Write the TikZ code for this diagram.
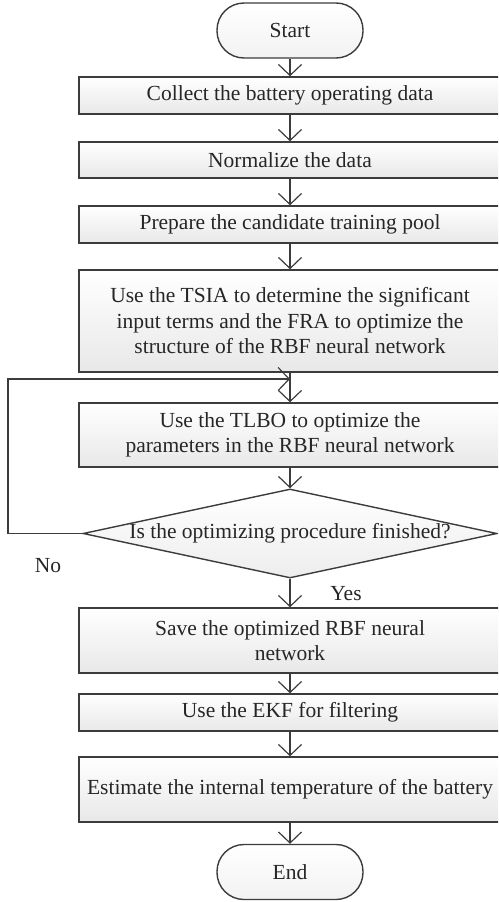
\documentclass[tikz,border=0pt]{standalone}
\usepackage{fontspec}
\setmainfont{Liberation Serif}
\usetikzlibrary{arrows.meta,shapes.geometric}
\definecolor{edge}{HTML}{3C3C3C}
\definecolor{ink}{HTML}{262626}
\begin{document}
\begin{tikzpicture}[x=1pt,y=-1pt,
  font=\fontsize{21.5}{25.5}\selectfont, text=ink,
  proc/.style={draw=edge, line width=1.4pt, top color=white, bottom color=black!9,
    minimum width=422pt, inner sep=0pt, align=center},
  term/.style={draw=edge, line width=1.4pt, top color=white, bottom color=black!5,
    rounded corners=27pt, minimum width=146pt, minimum height=55pt, inner sep=0pt},
  decide/.style={diamond, draw=edge, line width=1.4pt, top color=white, bottom color=black!7,
    minimum width=414pt, minimum height=89pt, inner sep=0pt},
  flow/.style={draw=edge, line width=1.2pt, -{Straight Barb[length=11pt,width=23pt,line width=1.2pt]}},
  tag/.style={inner sep=0pt}
]
\useasboundingbox (0,0) rectangle (498,902);
\clip (0,0) rectangle (498,902);

% terminals and process steps
\node[term] (start) at (290,30.5) {Start};
\node[proc, minimum height=37pt] (b1) at (290,95.5) {Collect the battery operating data};
\node[proc, minimum height=36pt] (b2) at (290,160) {Normalize the data};
\node[proc, minimum height=37pt] (b3) at (290,224.5) {Prepare the candidate training pool};
\node[proc, minimum height=102pt] (b4) at (290,321)
  {Use the TSIA to determine the significant\\input terms and the FRA to optimize the\\structure of the RBF neural network};
\node[proc, minimum height=64pt] (b5) at (290,435)
  {Use the TLBO to optimize the\\parameters in the RBF neural network};
\node[decide] (dec) at (290,533.5) {};
\node[tag] (q) at (dec.center) {Is the optimizing procedure finished?};
\node[proc, minimum height=65pt] (b6) at (290,640.5)
  {Save the optimized RBF neural\\network};
\node[proc, minimum height=37pt] (b7) at (290,712.5) {Use the EKF for filtering};
\node[proc, minimum height=65pt] (b8) at (290,789.5) {Estimate the internal temperature of the battery};
\node[term] (end) at (290,872) {End};

% branch labels
\node[tag] (no) at (48,566) {No};
\node[tag] (yes) at (346,594) {Yes};

% main flow
\draw[flow] (start) -- (b1);
\draw[flow] (b1) -- (b2);
\draw[flow] (b2) -- (b3);
\draw[flow] (b3) -- (b4);
\draw[flow] (b4) -- (b5);
\draw[flow] (b5) -- (dec);
\draw[flow] (dec) -- (b6);
\draw[flow] (b6) -- (b7);
\draw[flow] (b7) -- (b8);
\draw[flow] (b8) -- (end);

% loop back when not finished
\coordinate (lpA) at (8,533.5);
\coordinate (lpB) at (8,379);
\coordinate (join) at (290,379);
\draw[flow] (dec.west) -- (lpA) -- (lpB) -- (join);
\end{tikzpicture}
\end{document}
